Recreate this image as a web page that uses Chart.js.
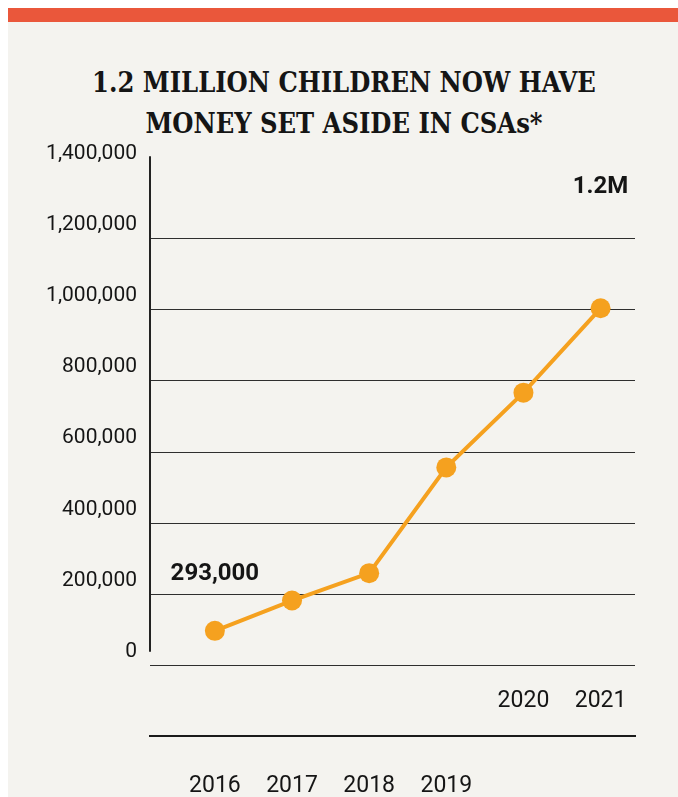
<!DOCTYPE html>
<html>
<head>
<meta charset="utf-8">
<script src="https://cdn.jsdelivr.net/npm/chart.js@4"></script>
<style>
  html, body { margin: 0; padding: 0; background: #ffffff; }
  body { width: 678px; height: 797px; position: relative; overflow: hidden; }
  #card { position: absolute; left: 8px; top: 8px; width: 670px; height: 789px; background: #f4f3ef; border-top: 14px solid #ea573b; box-sizing: border-box; }
  #chartTitle { position: absolute; left: 0; top: 61.5px; width: 688px; text-align: center; margin: 0;
    font: bold 27px/41px 'DejaVu Serif Condensed', 'DejaVu Serif', serif; color: #151515; }
  #csaChart { position: absolute; left: 0; top: 0; }
</style>
</head>
<body>
<div id="card"></div>
<h1 id="chartTitle"></h1>
<canvas id="csaChart" width="678" height="797"></canvas>
<script>
const years = [2016, 2017, 2018, 2019, 2020, 2021];
const childrenWithCSAs = [98000, 183000, 260000, 557000, 767000, 1004000];
const yTickValues = [0, 200000, 400000, 600000, 800000, 1000000, 1200000, 1400000];
const upperRowYears = [2020, 2021];
const lowerRowYears = [2016, 2017, 2018, 2019];
const calloutYears = [2016, 2021];
const calloutTexts = ["293,000", "1.2M"];
const calloutValues = [257000, 1344000];
const titleLines = ["1.2 MILLION CHILDREN NOW HAVE", "MONEY SET ASIDE IN CSAs*"];

const ink = "#151515";
const orange = "#f5a11f";

const titleEl = document.getElementById("chartTitle");
titleLines.forEach((line, i) => {
  if (i) titleEl.appendChild(document.createElement("br"));
  titleEl.appendChild(document.createTextNode(line));
});

// callouts drawn over the line, anchored to the scales
const calloutPlugin = {
  id: "callouts",
  afterDatasetsDraw(chart) {
    const { ctx, scales } = chart;
    ctx.save();
    ctx.font = "bold 24px Roboto";
    ctx.fillStyle = ink;
    ctx.textAlign = "center";
    ctx.textBaseline = "middle";
    calloutYears.forEach((yr, i) => {
      ctx.fillText(calloutTexts[i], scales.x.getPixelForValue(yr), scales.y.getPixelForValue(calloutValues[i]));
    });
    ctx.restore();
  }
};

// the vertical axis line sits a little above the grid in the original
const yAxisLinePlugin = {
  id: "yAxisLine",
  afterDraw(chart) {
    const { ctx, chartArea, scales } = chart;
    const top = scales.y.getPixelForValue(1400000) - 11;
    const bottom = scales.y.getPixelForValue(0) - 14;
    ctx.save();
    ctx.strokeStyle = "#222";
    ctx.lineWidth = 2;
    ctx.beginPath();
    ctx.moveTo(chartArea.left, top);
    ctx.lineTo(chartArea.left, bottom);
    ctx.stroke();
    ctx.restore();
  }
};

const yearTicks = scale => { scale.ticks = years.map(v => ({ value: v })); };

new Chart(document.getElementById("csaChart"), {
  type: "line",
  data: {
    datasets: [{
      data: years.map((yr, i) => ({ x: yr, y: childrenWithCSAs[i] })),
      borderColor: orange,
      backgroundColor: orange,
      borderWidth: 4,
      pointRadius: 10,
      pointHoverRadius: 10,
      pointBorderWidth: 0,
      pointBackgroundColor: orange,
      tension: 0,
      xAxisID: "x",
      yAxisID: "y"
    }]
  },
  options: {
    responsive: false,
    devicePixelRatio: 1,
    animation: false,
    layout: { padding: { left: 0, right: 43, top: 167.3, bottom: 0 } },
    plugins: {
      legend: { display: false },
      tooltip: { enabled: false },
      title: { display: false }
    },
    scales: {
      x: {
        type: "linear",
        position: "bottom",
        min: 2015.159,
        max: 2021.446,
        afterBuildTicks: yearTicks,
        afterFit: scale => { scale.height = 70; },
        grid: { display: false, drawTicks: false },
        border: { display: false },
        ticks: {
          autoSkip: false,
          maxRotation: 0,
          padding: 21.5,
          color: ink,
          font: { family: "Roboto", size: 23 },
          callback: v => upperRowYears.includes(v) ? String(v) : ""
        }
      },
      x2: {
        type: "linear",
        position: "bottom",
        min: 2015.159,
        max: 2021.446,
        afterBuildTicks: yearTicks,
        afterFit: scale => { scale.height = 61.3; },
        grid: { display: false, drawTicks: false },
        border: { display: true, color: "#1a1a1a", width: 2 },
        ticks: {
          autoSkip: false,
          maxRotation: 0,
          padding: 36.5,
          color: ink,
          font: { family: "Roboto", size: 23 },
          callback: v => lowerRowYears.includes(v) ? String(v) : ""
        }
      },
      y: {
        type: "linear",
        min: 0,
        max: 1400000,
        afterBuildTicks: scale => { scale.ticks = yTickValues.map(v => ({ value: v })); },
        afterFit: scale => { scale.width = 150; },
        grid: {
          drawTicks: false,
          lineWidth: 1,
          color: c => c.tick && c.tick.value === 1400000 ? "rgba(0,0,0,0)" : "#2e2e2e"
        },
        border: { display: false },
        ticks: {
          padding: 13,
          labelOffset: -14,
          color: ink,
          font: { family: "Roboto", size: 21 },
          callback: v => v.toLocaleString("en-US")
        }
      }
    }
  },
  plugins: [calloutPlugin, yAxisLinePlugin]
});
</script>
</body>
</html>
